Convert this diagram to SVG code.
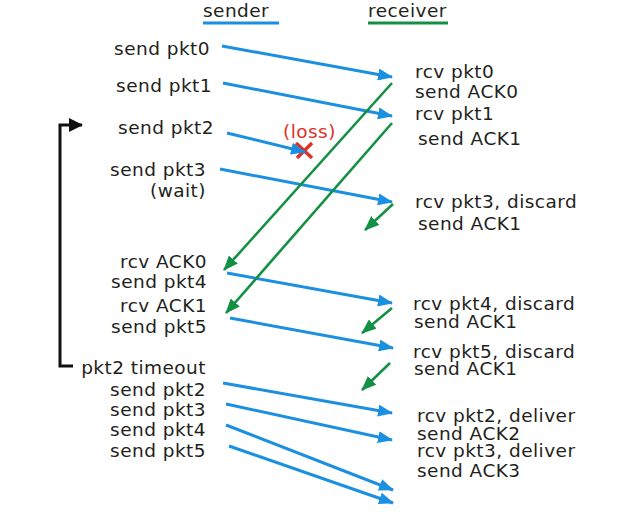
<svg xmlns="http://www.w3.org/2000/svg" width="636" height="515" viewBox="0 0 636 515">
<style>
text{font-family:"DejaVu Sans","Liberation Sans",sans-serif;font-size:18.5px;letter-spacing:0.45px;fill:#231f20}
.l{text-anchor:end}
.b{stroke:#1b8fe0;stroke-width:3;fill:none;marker-end:url(#ab)}
.g{stroke:#139043;stroke-width:2.6;fill:none;marker-end:url(#ag)}
</style>
<defs>
<marker id="ab" markerUnits="userSpaceOnUse" markerWidth="16" markerHeight="12" refX="14" refY="6" orient="auto"><path d="M0,0 L15,6 L0,12 z" fill="#1b8fe0"/></marker>
<marker id="ag" markerUnits="userSpaceOnUse" markerWidth="16" markerHeight="12" refX="14" refY="6" orient="auto"><path d="M0,0 L15,6 L0,12 z" fill="#139043"/></marker>
<marker id="ak" markerUnits="userSpaceOnUse" markerWidth="16" markerHeight="14" refX="13" refY="7" orient="auto"><path d="M0,0 L14,7 L0,14 z" fill="#111"/></marker>
</defs>
<rect width="636" height="515" fill="#fff"/>
<g id="header-sender"><text x="203" y="17">sender</text><line x1="203" y1="23" x2="279" y2="23" stroke="#1b8fe0" stroke-width="3"/></g>
<g id="header-receiver"><text x="368" y="17">receiver</text><line x1="368" y1="23" x2="448" y2="23" stroke="#139043" stroke-width="3"/></g>
<g id="s-pkt0"><text class="l" x="210" y="55">send pkt0</text></g>
<g id="s-pkt1"><text class="l" x="212" y="92">send pkt1</text></g>
<g id="s-pkt2"><text class="l" x="214" y="134">send pkt2</text></g>
<g id="s-pkt3"><text class="l" x="206" y="176">send pkt3</text><text class="l" x="206" y="197">(wait)</text></g>
<g id="s-ack0"><text class="l" x="207" y="268">rcv ACK0</text><text class="l" x="207" y="288">send pkt4</text></g>
<g id="s-ack1"><text class="l" x="207" y="312">rcv ACK1</text><text class="l" x="207" y="333">send pkt5</text></g>
<g id="s-timeout"><text class="l" x="206" y="374">pkt2 timeout</text><text class="l" x="206" y="396">send pkt2</text><text class="l" x="206" y="416">send pkt3</text><text class="l" x="206" y="436">send pkt4</text><text class="l" x="206" y="457">send pkt5</text></g>
<g id="r-pkt0"><text x="415" y="78">rcv pkt0</text><text x="415" y="98">send ACK0</text></g>
<g id="r-pkt1"><text x="415" y="120">rcv pkt1</text><text x="418" y="145">send ACK1</text></g>
<g id="r-pkt3"><text x="415" y="208">rcv pkt3, discard</text><text x="418" y="230">send ACK1</text></g>
<g id="r-pkt4"><text x="413" y="310">rcv pkt4, discard</text><text x="414" y="328">send ACK1</text></g>
<g id="r-pkt5"><text x="413" y="358">rcv pkt5, discard</text><text x="414" y="375">send ACK1</text></g>
<g id="r-pkt2d"><text x="417" y="422">rcv pkt2, deliver</text><text x="417" y="440">send ACK2</text></g>
<g id="r-pkt3d"><text x="417" y="457">rcv pkt3, deliver</text><text x="417" y="477">send ACK3</text></g>
<g id="loss"><text x="283" y="138" style="fill:#e0302a">(loss)</text><path d="M296,143 L312,158 M312,143 L297,158" stroke="#e0302a" stroke-width="3.5"/></g>
<g id="timer"><path d="M73,366 L60,366 L60,125 L82,125" stroke="#111" stroke-width="3" fill="none" marker-end="url(#ak)"/></g>
<g id="connectors">
<line class="b" x1="222" y1="46" x2="392" y2="77"/>
<line class="b" x1="223" y1="83" x2="392" y2="116"/>
<line class="b" x1="227" y1="133" x2="305" y2="152"/>
<line class="b" x1="220" y1="169" x2="392" y2="202"/>
<line class="b" x1="227" y1="273" x2="392" y2="303"/>
<line class="b" x1="230" y1="318" x2="393" y2="348"/>
<line class="b" x1="223" y1="383" x2="392" y2="413"/>
<line class="b" x1="226" y1="404" x2="392" y2="440"/>
<line class="b" x1="226" y1="425" x2="393" y2="490"/>
<line class="b" x1="229" y1="446" x2="393" y2="503"/>
<line class="g" x1="392" y1="83" x2="224" y2="270"/>
<line class="g" x1="392" y1="123" x2="226" y2="313"/>
<line class="g" x1="393" y1="204" x2="365" y2="230"/>
<line class="g" x1="392" y1="308" x2="362" y2="333"/>
<line class="g" x1="390" y1="363" x2="362" y2="390"/>
</g>
</svg>
